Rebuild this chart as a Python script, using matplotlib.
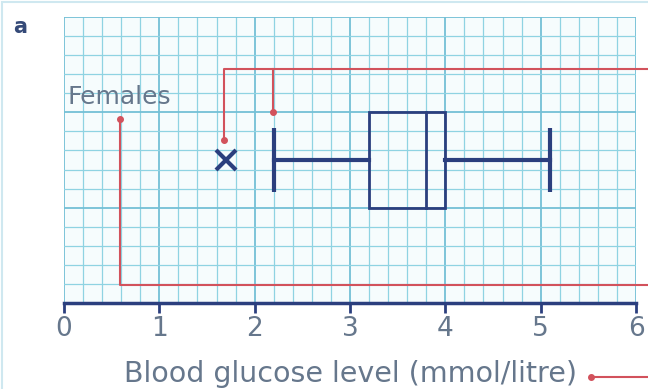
import numpy as np
import matplotlib.pyplot as plt
from matplotlib.patches import Rectangle

# Five-number summary for females (mmol/litre)
outlier = 1.7
lower_whisker = 2.2
q1 = 3.2
median = 3.8
q3 = 4.0
upper_whisker = 5.1

ticks = [0, 1, 2, 3, 4, 5, 6]

navy = '#2b3f7e'
red = '#d2525c'
grid_minor = '#8fd3e2'
grid_major = '#74c0d6'
text_col = '#66778c'

fig = plt.figure(figsize=(6.48, 3.89), dpi=100)
fig.patch.set_facecolor('white')

# light frame round the whole panel
fig.patches.append(Rectangle((0.003, -0.05), 1.2, 1.045, transform=fig.transFigure,
                             fill=False, edgecolor='#cfe8f0', linewidth=1.5))

ax = fig.add_axes([64/648, 86/389, 572/648, 286/389])
ax.set_xlim(0, 6)
ax.set_ylim(0, 3)
ax.set_facecolor('#f6fcfd')

# graph paper: minor every 0.2, major every 1
for v in np.arange(0, 6.01, 0.2):
    major = abs(v - round(v)) < 1e-6
    ax.axvline(v, color=grid_major if major else grid_minor,
               lw=1.3 if major else 0.9, zorder=0)
for v in np.arange(0, 3.01, 0.2):
    major = abs(v - round(v)) < 1e-6
    ax.axhline(v, color=grid_major if major else grid_minor,
               lw=1.3 if major else 0.9, zorder=0)

for s in ['top', 'right', 'left']:
    ax.spines[s].set_visible(False)
ax.spines['bottom'].set_color(navy)
ax.spines['bottom'].set_linewidth(2.5)
ax.spines['bottom'].set_zorder(5)

ax.set_yticks([])
ax.set_xticks(ticks)
ax.set_xticklabels([str(t) for t in ticks])
ax.tick_params(axis='x', direction='out', length=7, width=2, color=navy,
               labelsize=19, labelcolor=text_col, pad=2)

# box plot
ymid = 1.5
ax.add_patch(Rectangle((q1, 1.0), q3 - q1, 1.0, fill=False,
                       edgecolor=navy, lw=2, zorder=3))
ax.plot([median, median], [1.0, 2.0], color=navy, lw=2, zorder=3)
ax.plot([lower_whisker, q1], [ymid, ymid], color=navy, lw=3, zorder=3)
ax.plot([q3, upper_whisker], [ymid, ymid], color=navy, lw=3, zorder=3)
for w in [lower_whisker, upper_whisker]:
    ax.plot([w, w], [1.16, 1.84], color=navy, lw=3, zorder=3,
            solid_capstyle='butt')
ax.plot(outlier, ymid, marker='x', color=navy, markersize=14,
        markeredgewidth=3, zorder=3)

# red pointer lines running off to the right
x_edge = (648 - 64) / (572 / 6)
ax.plot([outlier - 0.02, outlier - 0.02, x_edge], [1.71, 2.45, 2.45],
        color=red, lw=1.5, clip_on=False, zorder=4)
ax.plot([lower_whisker - 0.01, lower_whisker - 0.01], [2.0, 2.45],
        color=red, lw=1.5, clip_on=False, zorder=4)
ax.plot([0.59, 0.59, x_edge], [1.93, 0.19, 0.19],
        color=red, lw=1.5, clip_on=False, zorder=4)
ax.plot([outlier - 0.02, lower_whisker - 0.01, 0.59], [1.71, 2.0, 1.93],
        'o', color=red, markersize=4, zorder=4)

ax.text(0.04, 2.04, 'Females', fontsize=18, color=text_col,
        ha='left', va='bottom')

fig.text(350/648, 1 - 374/389, 'Blood glucose level (mmol/litre)',
         fontsize=20.5, color=text_col, ha='center', va='center')
fig.add_artist(plt.Line2D([591/648, 1.0], [1 - 377/389, 1 - 377/389],
                          color=red, lw=1.5))
fig.add_artist(plt.Line2D([591/648], [1 - 377/389], marker='o',
                          color=red, markersize=4))

fig.text(20/648, 1 - 27/389, 'a', fontsize=15, fontweight='bold',
         color='#354a78', ha='center', va='center')

fig.savefig('out.png', dpi=100)
